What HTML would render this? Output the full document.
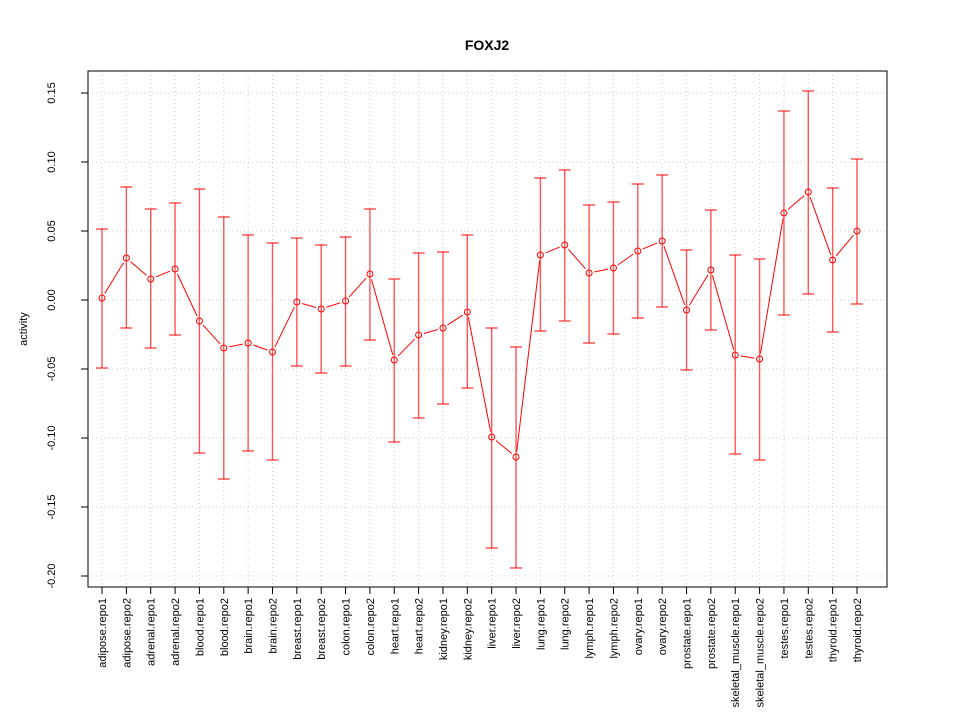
<!DOCTYPE html>
<html><head><meta charset="utf-8"><style>body{margin:0;background:#fff}svg{display:block}text{font-family:"Liberation Sans",sans-serif;font-size:11px;fill:#000}</style></head><body>
<svg width="960" height="720" xmlns="http://www.w3.org/2000/svg">
<text x="487" y="50" text-anchor="middle" style="font-size:14px;font-weight:bold">FOXJ2</text>
<text transform="translate(27,329) rotate(-90)" text-anchor="middle">activity</text>
<g id="g"></g>
<rect x="88" y="71" width="799" height="516" fill="none" stroke="#000"/>
</svg>
<script>
const d=[["adipose.repo1",298,229,368],["adipose.repo2",258,187,328],["adrenal.repo1",279,209,348],["adrenal.repo2",269,203,335],["blood.repo1",321,189,453],["blood.repo2",348,217,479],["brain.repo1",343,235,451],["brain.repo2",352,243,460],["breast.repo1",302,238,366],["breast.repo2",309,245,373],["colon.repo1",301,237,366],["colon.repo2",274,209,340],["heart.repo1",360,279,442],["heart.repo2",335,253,418],["kidney.repo1",328,252,404],["kidney.repo2",312,235,388],["liver.repo1",437,328,548],["liver.repo2",457,347,568],["lung.repo1",255,178,331],["lung.repo2",245,170,321],["lymph.repo1",273,205,343],["lymph.repo2",268,202,334],["ovary.repo1",251,184,318],["ovary.repo2",241,175,307],["prostate.repo1",310,250,370],["prostate.repo2",270,210,330],["skeletal_muscle.repo1",355,255,454],["skeletal_muscle.repo2",359,259,460],["testes.repo1",213,111,315],["testes.repo2",192,91,294],["thyroid.repo1",260,188,332],["thyroid.repo2",231,159,304]];
let s="";const X=i=>102+i*755/31;
const yt=[[0.15,"0.15"],[0.10,"0.10"],[0.05,"0.05"],[0,"0.00"],[-0.05,"-0.05"],[-0.10,"-0.10"],[-0.15,"-0.15"],[-0.20,"-0.20"]];
for(const [v,l] of yt){const y=300-v*1380;s+=`<line x1="88" x2="887" y1="${y}" y2="${y}" stroke="#ccc" stroke-dasharray="1,3"/><line x1="81" x2="88" y1="${y}" y2="${y}" stroke="#000"/><text transform="translate(55,${y}) rotate(-90)" text-anchor="middle">${l}</text>`;}
s+=`<line x1="88" x2="88" y1="${300-0.15*1380}" y2="${300+0.2*1380}" stroke="#000"/>`;
d.forEach((r,i)=>{const x=X(i);s+=`<line x1="${x}" x2="${x}" y1="71" y2="587" stroke="#ccc" stroke-dasharray="1,3"/><line x1="${x}" x2="${x}" y1="587" y2="594" stroke="#000"/><text transform="translate(${x+4},598) rotate(-90)" text-anchor="end">${r[0]}</text>`;
s+=`<line x1="${x}" x2="${x}" y1="${r[2]}" y2="${r[3]}" stroke="#f55" stroke-width="1.4"/><line x1="${x-6}" x2="${x+6}" y1="${r[2]}" y2="${r[2]}" stroke="red"/><line x1="${x-6}" x2="${x+6}" y1="${r[3]}" y2="${r[3]}" stroke="red"/>`;});
for(let i=0;i<d.length-1;i++){const x1=X(i),y1=d[i][1],x2=X(i+1),y2=d[i+1][1];const dx=x2-x1,dy=y2-y1,L=Math.hypot(dx,dy),g=5.5;if(L>2*g){const ux=dx/L,uy=dy/L;s+=`<line x1="${x1+ux*g}" y1="${y1+uy*g}" x2="${x2-ux*g}" y2="${y2-uy*g}" stroke="red"/>`;}}
d.forEach((r,i)=>{s+=`<circle cx="${X(i)}" cy="${r[1]}" r="3" fill="none" stroke="red"/>`;});
s+=`<line x1="${X(0)}" x2="${X(31)}" y1="587" y2="587" stroke="#000"/>`;
document.getElementById("g").innerHTML=s;
</script>
</body></html>
